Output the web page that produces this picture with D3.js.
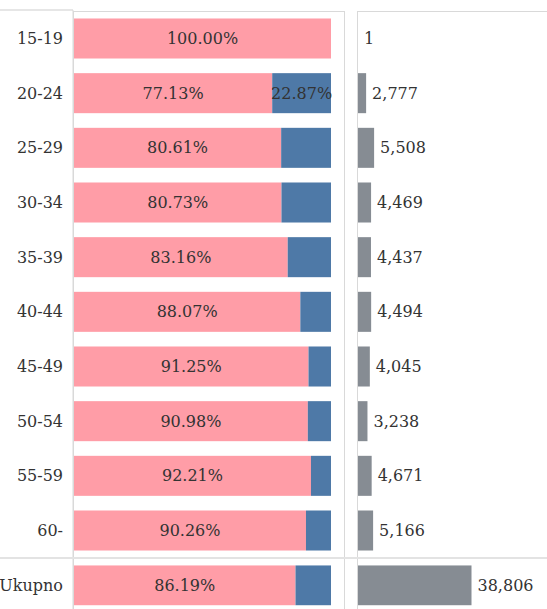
<!DOCTYPE html>
<html>
<head>
<meta charset="utf-8">
<script src="https://cdn.jsdelivr.net/npm/d3@7"></script>
<style>
    body { margin: 0; background: #fff; }
    #chart { width: 547px; height: 609px; }
</style>
</head>
<body>
<div id="chart"></div>
<script>
// Data
const ageGroups = ['15-19', '20-24', '25-29', '30-34', '35-39', '40-44', '45-49', '50-54', '55-59', '60-'];
const sharePink = [1.0000, 0.7713, 0.8061, 0.8073, 0.8316, 0.8807, 0.9125, 0.9098, 0.9221, 0.9026];
const counts = [1, 2777, 5508, 4469, 4437, 4494, 4045, 3238, 4671, 5166];
const totalLabel = 'Ukupno';
const totalShare = 0.8619;
const totalCount = 38806;

const colors = { pink: '#ff9da7', blue: '#4e79a7', gray: '#868c93', text: '#333', line: '#d9d9d9' };
const font = "'DejaVu Serif', 'Liberation Serif', Georgia, serif";
const fontSize = '16px';

const container = document.getElementById('chart');
const W = 547, H = 609;

const svg = d3.select(container)
    .append('svg')
    .attr('width', W)
    .attr('height', H)
    .attr('font-family', font);

// Layout of the three columns
const labelRight = 73;
const pctPanel = { x0: 73, x1: 344 };
const cntPanel = { x0: 357, x1: W + 2 };
const topY = 11, sepY = 558;

// Row scales
const y = d3.scaleBand()
    .domain(ageGroups)
    .range([topY, sepY])
    .paddingInner(0.268)
    .paddingOuter(0.137);

const yTotal = d3.scaleBand()
    .domain([totalLabel])
    .range([sepY, sepY + y.step()])
    .paddingInner(0.268)
    .paddingOuter(0.137);

// X scales
const xPct = d3.scaleLinear().domain([0, 1]).range([74, 331]);
const xCnt = d3.scaleLinear().domain([0, totalCount]).range([358, 471.5]);

// Panel borders
svg.append('line')
    .attr('x1', 0).attr('x2', labelRight)
    .attr('y1', topY - 1).attr('y2', topY - 1)
    .attr('stroke', '#e6e6e6').attr('stroke-width', 2);

svg.append('line')
    .attr('x1', labelRight).attr('x2', labelRight)
    .attr('y1', topY - 1).attr('y2', H)
    .attr('stroke', colors.line);

[pctPanel, cntPanel].forEach(p => {
    svg.append('rect')
        .attr('x', p.x0 + 0.5)
        .attr('y', topY + 0.5)
        .attr('width', p.x1 - p.x0)
        .attr('height', H)
        .attr('fill', 'none')
        .attr('stroke', colors.line);
});

// Separator above total row
svg.append('line')
    .attr('x1', 0).attr('x2', W)
    .attr('y1', sepY).attr('y2', sepY)
    .attr('stroke', '#e3e3e3').attr('stroke-width', 2);

// Build rows (age groups + total)
const rows = ageGroups.map((g, i) => ({ key: g, share: sharePink[i], count: counts[i], scale: y }));
rows.push({ key: totalLabel, share: totalShare, count: totalCount, scale: yTotal });

const row = svg.selectAll('g.row')
    .data(rows)
    .enter()
    .append('g')
    .attr('class', 'row');

// Row labels
row.append('text')
    .attr('x', 63)
    .attr('y', d => d.scale(d.key) + d.scale.bandwidth() / 2)
    .attr('dy', '0.35em')
    .attr('text-anchor', 'end')
    .style('font-size', fontSize)
    .style('fill', colors.text)
    .text(d => d.key);

// Pink segment
row.append('rect')
    .attr('x', xPct(0))
    .attr('y', d => d.scale(d.key))
    .attr('width', d => xPct(d.share) - xPct(0))
    .attr('height', d => d.scale.bandwidth())
    .attr('fill', colors.pink);

// Blue segment
row.append('rect')
    .attr('x', d => xPct(d.share))
    .attr('y', d => d.scale(d.key))
    .attr('width', d => xPct(1) - xPct(d.share))
    .attr('height', d => d.scale.bandwidth())
    .attr('fill', colors.blue);

// Pink labels
row.append('text')
    .attr('x', d => (xPct(0) + xPct(d.share)) / 2)
    .attr('y', d => d.scale(d.key) + d.scale.bandwidth() / 2)
    .attr('dy', '0.35em')
    .attr('text-anchor', 'middle')
    .style('font-size', fontSize)
    .style('fill', colors.text)
    .text(d => (d.share * 100).toFixed(2) + '%');

// Blue labels only where the segment is wide enough
row.filter(d => 1 - d.share > 0.2)
    .append('text')
    .attr('x', d => (xPct(d.share) + xPct(1)) / 2)
    .attr('y', d => d.scale(d.key) + d.scale.bandwidth() / 2)
    .attr('dy', '0.35em')
    .attr('text-anchor', 'middle')
    .style('font-size', fontSize)
    .style('fill', colors.text)
    .text(d => ((1 - d.share) * 100).toFixed(2) + '%');

// Count bars
row.append('rect')
    .attr('x', xCnt(0))
    .attr('y', d => d.scale(d.key))
    .attr('width', d => xCnt(d.count) - xCnt(0))
    .attr('height', d => d.scale.bandwidth())
    .attr('fill', colors.gray);

// Count labels
row.append('text')
    .attr('x', d => xCnt(d.count) + 6)
    .attr('y', d => d.scale(d.key) + d.scale.bandwidth() / 2)
    .attr('dy', '0.35em')
    .style('font-size', fontSize)
    .style('fill', colors.text)
    .text(d => d3.format(',')(d.count));
</script>
</body>
</html>
